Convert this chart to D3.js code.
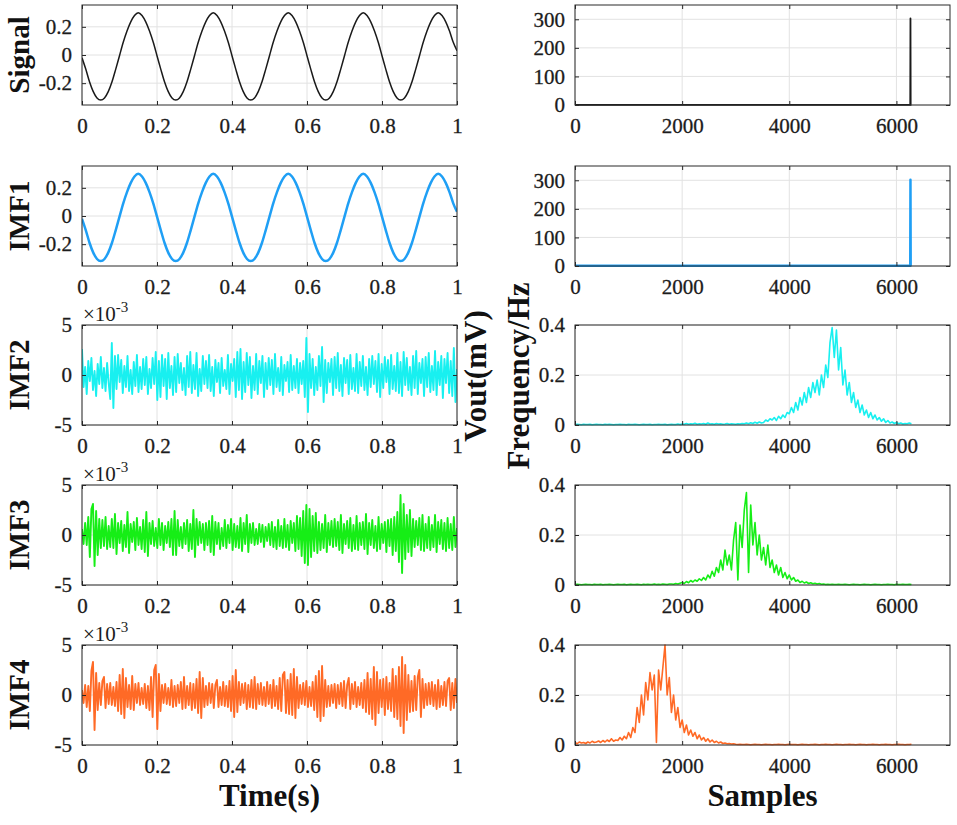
<!DOCTYPE html>
<html>
  <head>
    <meta charset="utf-8">
    <script src="https://d3js.org/d3.v7.min.js"></script>
    <style>
      body {
        margin: 0;
        background: #fff;
      }
      .tick line {
        stroke: #262626;
      }
      .grid line {
        stroke: #e2e2e2;
        stroke-width: 1px;
      }
      .box {
        fill: none;
        stroke: #2a2a2a;
        stroke-width: 1px;
      }
      .lab {
        font-weight: bold;
        fill: #111;
      }
    </style>
  </head>
  <body>
    <script>
      // ---- data ----
      var rowNames = ['Signal', 'IMF1', 'IMF2', 'IMF3', 'IMF4']
      var rowColors = ['#1a1a1a', '#1f9ff5', '#18f0f0', '#16ee16', '#ff6a26']

      var timeTicks = [0, 0.2, 0.4, 0.6, 0.8, 1]
      var sampleTicks = [0, 2000, 4000, 6000]
      var sineTicks = [-0.2, 0, 0.2]
      var noiseTicks = [-5, 0, 5]          // x 10^-3
      var peakTicks = [0, 100, 200, 300]
      var specTicks = [0, 0.2, 0.4]

      // time signal, one value every 0.01 s
      var sigWave = [
        -0.02,-0.1,-0.19,-0.26,-0.305,-0.32,-0.305,-0.26,-0.19,-0.1,-0.005,0.09,0.17,0.235,0.28,0.3,0.28,0.235,0.17,0.09,
        -0.005,-0.1,-0.19,-0.26,-0.305,-0.32,-0.305,-0.26,-0.19,-0.1,-0.005,0.09,0.17,0.235,0.28,0.3,0.28,0.235,0.17,0.09,
        -0.005,-0.1,-0.19,-0.26,-0.305,-0.32,-0.305,-0.26,-0.19,-0.1,-0.005,0.09,0.17,0.235,0.28,0.3,0.28,0.235,0.17,0.09,
        -0.005,-0.1,-0.19,-0.26,-0.305,-0.32,-0.305,-0.26,-0.19,-0.1,-0.005,0.09,0.17,0.235,0.28,0.3,0.28,0.235,0.17,0.09,
        -0.005,-0.1,-0.19,-0.26,-0.305,-0.32,-0.305,-0.26,-0.19,-0.1,-0.005,0.09,0.17,0.235,0.28,0.3,0.28,0.235,0.17,0.09,
        0.03
      ]
      // IMF1 is indistinguishable from the signal at this scale
      var imf1Wave = sigWave

      // IMFs 2-4 in units of 10^-3
      var imf2Wave = [
        2.6,-1.2,0.8,-1.9,1.4,-0.6,1.7,-1.5,0.4,-2.1,1.1,-0.9,1.8,-1.3,0.7,-1.6,1.2,-0.8,-2.4,3.2,
        -3.3,1.9,-1.4,2.0,-0.7,1.5,-1.8,0.9,-1.2,1.9,-1.6,0.5,-1.9,1.3,-1.1,2.0,-1.7,0.8,-1.4,1.6,
        -1.0,1.8,-1.9,0.6,-1.3,1.7,-0.9,2.3,-2.5,1.4,-2.2,2.0,-1.1,1.6,-2.4,2.2,-1.3,0.9,-2.0,1.8,
        -1.7,2.1,-0.8,1.2,-1.5,0.7,-2.0,1.9,-1.2,2.3,-1.8,1.0,-1.4,2.2,-2.1,0.6,-1.6,1.9,-0.9,1.4,
        -1.3,2.0,-1.6,0.8,-2.1,1.5,-0.7,1.2,-1.8,1.7,-1.1,0.5,-1.4,2.0,-1.9,1.1,-0.6,1.6,-2.2,2.3,
        -1.5,2.6,-2.4,1.3,-1.7,2.2,-1.0,1.8,-2.3,0.9,-1.5,2.1,-1.9,1.4,-0.8,1.9,-2.2,1.2,-1.4,1.7,
        -1.0,1.5,-1.9,2.1,-1.2,0.7,-1.6,1.8,-2.0,1.0,-0.6,1.3,-1.7,2.0,-1.5,0.9,-1.3,1.6,-1.8,1.2,
        -0.9,1.4,-2.2,3.7,-3.7,2.1,-1.3,1.6,-2.0,0.8,-1.5,1.9,-1.1,2.8,-2.7,1.5,-1.8,1.2,-0.7,1.6,
        -2.0,1.8,-1.3,2.2,-1.6,1.0,-2.1,1.7,-0.8,1.5,-1.9,2.0,-1.4,0.7,-1.6,2.1,-1.8,1.3,-1.1,1.9,
        -1.5,0.8,-2.0,1.6,-1.2,1.9,-0.9,1.4,-1.7,2.1,-2.2,1.1,-1.3,1.8,-0.7,1.5,-1.9,2.0,-1.4,0.9,
        -1.6,2.2,-1.8,1.3,-2.1,2.3,-1.0,1.7,-1.5,0.8,-2.0,1.9,-1.3,2.4,-1.9,1.2,-0.8,1.6,-2.1,1.8,
        -1.2,2.2,-1.7,0.9,-1.5,2.4,-2.0,1.3,-1.0,1.9,-2.3,1.6,-0.8,2.2,-1.8,1.4,-2.1,2.7,-2.7,0.6
      ]
      var imf3Wave = [
        0.6,-0.9,1.2,-1.0,1.8,-2.2,2.6,3.1,-3.1,2.4,-2.0,1.6,-1.3,1.5,-1.1,1.8,-1.4,0.9,-1.2,1.6,
        -1.3,2.1,-1.9,1.2,-0.8,1.4,-1.6,1.0,-1.2,2.3,-1.8,1.1,-0.7,1.3,-1.5,1.7,-1.0,0.8,-1.4,1.5,
        -1.7,2.3,-2.1,1.2,-0.9,1.4,-1.1,0.7,-1.3,1.6,-1.0,1.2,-1.5,0.9,-0.8,1.3,-1.2,1.6,-2.0,2.4,
        -2.0,1.5,-1.1,0.8,-1.3,1.2,-0.9,1.5,-1.6,1.1,-1.4,2.5,-2.2,1.6,-1.0,1.3,-0.8,1.1,-1.5,1.2,
        -1.0,1.4,-1.7,1.9,-2.0,1.3,-0.9,1.2,-1.4,0.7,-1.1,1.5,-1.3,1.0,-0.8,1.6,-1.5,1.1,-1.2,0.9,
        -1.3,1.7,-1.6,1.2,-0.9,2.0,-1.7,1.1,-0.8,1.2,-1.0,0.6,-0.9,1.1,-0.7,1.0,-1.2,0.8,-0.6,1.1,
        -1.0,1.3,-1.2,0.8,-1.4,1.5,-1.1,0.9,-1.3,1.6,-1.2,1.0,-1.5,1.4,-0.8,1.2,-1.6,1.9,-1.4,1.7,
        -2.1,2.4,-2.8,3.0,-3.0,2.6,-2.2,1.9,-1.6,2.2,-1.8,1.3,-1.5,1.1,-1.3,2.0,-1.7,1.2,-1.0,1.4,
        -1.2,1.6,-1.1,1.3,-1.5,2.0,-1.8,1.1,-0.9,1.4,-1.3,1.7,-1.6,1.0,-1.4,1.9,-1.5,1.2,-1.0,1.3,
        -1.4,2.1,-1.9,1.2,-1.0,1.5,-1.3,0.9,-1.6,1.8,-1.4,1.1,-0.8,1.3,-1.7,1.5,-1.1,1.6,-2.0,1.8,
        -1.6,2.3,-2.7,4.0,-3.8,3.1,-2.4,2.0,-1.7,2.5,-2.1,1.6,-1.2,1.4,-1.0,1.7,-1.5,2.0,-1.6,1.1,
        -1.3,1.8,-1.5,1.0,-1.2,2.0,-1.7,1.3,-0.9,1.5,-1.4,1.2,-1.6,1.7,-1.3,1.1,-1.5,1.8,-1.2,0.7
      ]
      var imf4Wave = [
        0.5,-0.8,1.0,-1.2,0.9,-1.6,2.4,3.3,-3.5,2.2,-1.5,1.2,-1.0,1.4,1.8,-1.3,1.1,-0.9,1.2,-1.0,
        0.8,-1.1,1.3,-1.6,2.0,-1.9,2.6,-2.3,1.7,-1.2,1.0,-1.4,1.9,-1.5,1.1,-0.8,1.2,-1.0,0.7,-0.9,
        1.1,-1.3,0.9,-1.5,1.8,-2.2,2.5,3.0,-3.4,2.1,-1.6,1.0,-0.8,1.1,-0.9,0.7,-1.0,1.5,-1.2,0.9,
        -1.1,1.0,-0.8,1.3,-1.4,1.8,-1.3,0.9,-1.0,1.2,-1.5,1.1,-1.3,1.6,-1.8,2.3,-2.3,1.7,-1.2,0.9,
        -1.0,1.2,-0.8,1.1,-1.3,1.0,1.5,-1.2,0.8,-1.0,1.3,-1.1,0.9,-1.2,1.4,-1.6,1.9,-2.2,2.5,-1.7,
        1.3,-1.0,1.1,-0.8,1.2,-1.4,1.0,-1.2,1.5,-1.3,1.8,-1.4,1.1,-0.9,1.2,-1.0,0.8,-1.1,1.3,-0.9,
        1.0,-1.3,1.5,-1.1,0.9,-1.4,1.7,-1.6,2.0,2.3,-1.8,1.5,-1.9,2.1,-2.0,2.6,-2.3,1.8,-1.3,1.0,
        -0.9,1.2,-1.0,1.4,-1.2,0.8,-1.1,1.3,-1.5,1.9,-2.2,2.4,-2.6,2.9,-2.1,1.5,-1.2,0.9,-1.1,1.0,
        -0.8,1.1,-1.3,1.0,-0.9,1.2,-1.1,1.4,-1.3,1.0,1.7,-1.4,1.1,-0.9,1.3,-1.2,0.8,-1.0,1.2,-1.3,
        1.5,-1.7,2.2,-1.9,1.6,-2.4,2.8,-3.0,2.3,-1.8,1.5,-1.2,1.6,-2.0,1.8,-1.4,1.2,-1.6,2.6,-2.2,
        1.9,-2.4,2.8,-3.1,3.8,-3.8,3.0,-2.5,2.0,-1.7,1.4,-1.6,1.9,-1.5,1.8,2.5,-2.2,1.6,-1.3,1.1,
        -1.0,1.2,-0.9,1.3,-1.1,1.0,-1.4,1.5,-1.2,0.9,-1.0,1.3,-1.1,1.4,1.7,-1.5,1.2,-1.3,1.6,-0.8
      ]

      // spectra: single line for signal / IMF1, the rest on an even grid 0..specEnd
      var specEnd = 6280
      var sigSpecX = [0, 6250, 6258, 6262, 6266, 6280]
      var sigSpecY = [0.6, 0.6, 0.6, 303, 0.6, 0.6]
      var imf1SpecX = [0, 6250, 6258, 6262, 6266, 6280]
      var imf1SpecY = [0.6, 0.6, 0.6, 302, 0.6, 0.6]

      var imf2Spec = [
        0.002,0.003,0.002,0.001,0.003,0.002,0.002,0.003,0.001,0.002,
        0.003,0.002,0.002,0.001,0.003,0.002,0.003,0.002,0.001,0.002,
        0.002,0.003,0.002,0.002,0.001,0.003,0.002,0.002,0.003,0.002,
        0.001,0.002,0.003,0.002,0.002,0.003,0.001,0.002,0.002,0.003,
        0.002,0.002,0.003,0.001,0.002,0.003,0.002,0.002,0.004,0.002,
        0.004,0.003,0.006,0.003,0.005,0.004,0.007,0.003,0.005,0.004,
        0.006,0.003,0.008,0.004,0.005,0.003,0.006,0.004,0.005,0.003,
        0.004,0.006,0.003,0.005,0.004,0.003,0.005,0.004,0.006,0.005,
        0.008,0.005,0.009,0.006,0.011,0.007,0.012,0.008,
        0.01,0.02,0.015,0.025,0.02,0.03,0.018,0.035,0.025,0.04,0.03,0.05,
        0.045,0.07,0.05,0.09,0.06,0.11,0.08,0.13,0.09,0.15,0.11,0.17,0.13,
        0.18,0.12,0.2,0.15,0.24,0.19,0.33,
        0.39,0.27,0.38,0.22,0.31,0.16,0.22,0.12,0.17,0.09,
        0.13,0.07,0.1,0.05,0.08,0.04,0.06,0.03,0.05,0.025,
        0.04,0.02,0.03,0.015,0.025,0.01,0.018,0.008,0.012,0.006,
        0.01,0.005,0.008,0.004,0.006,0.005,0.008,0.005
      ]
      var imf3Spec = [
        0.002,0.003,0.002,0.001,0.002,0.003,0.002,0.002,0.001,0.003,
        0.002,0.002,0.003,0.001,0.002,0.002,0.003,0.002,0.001,0.002,
        0.003,0.002,0.002,0.003,0.001,0.002,0.003,0.002,0.002,0.003,
        0.002,0.001,0.003,0.002,0.003,0.002,0.002,0.004,0.002,0.003,
        0.002,0.004,0.003,0.002,0.004,
        0.004,0.003,0.006,0.004,0.007,
        0.01,0.006,0.014,0.009,0.018,0.012,0.02,0.015,0.025,0.018,
        0.03,0.02,0.04,0.028,0.055,0.035,0.07,0.05,0.1,0.06,
        0.14,0.08,0.12,0.06,0.18,0.25,0.02,0.24,0.15,0.3,
        0.37,0.05,0.32,0.16,0.25,0.12,0.2,0.1,0.15,0.08,
        0.16,0.07,0.1,0.05,0.08,0.04,0.07,0.03,0.05,0.025,
        0.04,0.02,0.03,0.015,0.02,0.01,0.015,0.008,0.012,0.006,0.009,0.005,0.007,0.004,0.006,
        0.003,0.004,0.002,0.003,0.002,0.003,0.002,0.002,0.003,0.002,
        0.002,0.003,0.002,0.001,0.002,0.003,0.002,0.002,0.001,0.002,
        0.003,0.002,0.002,0.001,0.002,0.003,0.002,0.002,0.001,0.002,
        0.002,0.003,0.002,0.002,0.001,0.003,0.002,0.002,0.003,0.002,
        0.002,0.003,0.002
      ]
      var imf4Spec = [
        0.01,0.005,0.012,0.008,0.01,0.006,0.012,0.008,0.015,0.01,
        0.012,0.016,0.01,0.018,0.012,0.02,0.014,0.025,0.015,0.02,
        0.018,0.03,0.02,0.035,0.025,0.05,0.03,0.07,0.05,0.15,
        0.09,0.2,0.12,0.25,0.18,0.29,0.22,0.28,0.01,0.3,
        0.22,0.31,0.4,0.2,0.27,0.13,0.2,0.1,0.15,0.07,
        0.1,0.05,0.08,0.04,0.06,0.035,0.05,0.025,0.04,0.02,
        0.03,0.015,0.025,0.012,0.02,0.01,0.015,0.008,0.012,0.006,0.008,0.005,0.006,0.004,0.005,
        0.003,0.002,0.003,0.002,0.002,0.003,0.002,0.001,0.002,0.003,
        0.002,0.002,0.001,0.002,0.003,0.002,0.002,0.001,0.002,0.002,
        0.003,0.002,0.002,0.001,0.002,0.003,0.002,0.002,0.002,0.001,
        0.002,0.003,0.002,0.002,0.001,0.002,0.002,0.003,0.002,0.001,
        0.002,0.002,0.003,0.002,0.002,0.001,0.002,0.003,0.002,0.002,
        0.001,0.002,0.002,0.003,0.002,0.002,0.001,0.002,0.003,0.002,
        0.002,0.001,0.002,0.002,0.003,0.002,0.002,0.001,0.002,0.002,
        0.003,0.002,0.002,0.001,0.002,0.002,0.003,0.002,0.002,0.001,
        0.002,0.002,0.003
      ]

      // ---- layout ----
      var width = 957, height = 825
      var leftX = 82, rightX = 575
      var panelW = 375, panelH = 100
      var rowTop = [5, 166, 325, 485, 645]
      var serif = '"Liberation Serif", "Times New Roman", serif'

      var svg = d3.select('body').append('svg')
        .attr('width', width)
        .attr('height', height)
        .attr('font-family', serif)

      var clipCount = 0

      // pair up x/y arrays
      function timePts(vals) {
        return vals.map(function(v, i) { return [i / (vals.length - 1), v] })
      }
      function gridPts(vals) {
        return vals.map(function(v, i) { return [i * specEnd / (vals.length - 1), v] })
      }
      function zipPts(xs, ys) {
        return xs.map(function(v, i) { return [v, ys[i]] })
      }

      // drop the domain line and d3's default sans font
      function plain(a) {
        a.select('.domain').remove()
        a.attr('font-family', serif).attr('font-size', 21)
        a.selectAll('text')
          .attr('font-family', serif)
          .attr('fill', '#1c1c1c')
          .attr('stroke', '#1c1c1c')
          .attr('stroke-width', 0.3)
      }

      function panel(px, py, xDomain, yDomain, xTicks, yTicks, pts, color, lw, curve) {
        var x = d3.scaleLinear().domain(xDomain).range([0, panelW])
        var y = d3.scaleLinear().domain(yDomain).range([panelH, 0])
        var g = svg.append('g').attr('transform', 'translate(' + px + ',' + py + ')')

        //grid
        var grid = g.append('g').attr('class', 'grid')
        grid.selectAll('.gx').data(xTicks).enter().append('line')
          .attr('x1', function(d) { return x(d) })
          .attr('x2', function(d) { return x(d) })
          .attr('y1', 0)
          .attr('y2', panelH)
        grid.selectAll('.gy').data(yTicks).enter().append('line')
          .attr('x1', 0)
          .attr('x2', panelW)
          .attr('y1', function(d) { return y(d) })
          .attr('y2', function(d) { return y(d) })

        //data line
        var id = 'clip' + (clipCount++)
        g.append('clipPath').attr('id', id).append('rect')
          .attr('x', 0).attr('y', -2)
          .attr('width', panelW).attr('height', panelH + 4)
        var line = d3.line()
          .x(function(d) { return x(d[0]) })
          .y(function(d) { return y(d[1]) })
        if (curve) line.curve(curve)
        g.append('path')
          .datum(pts)
          .attr('clip-path', 'url(#' + id + ')')
          .attr('fill', 'none')
          .attr('stroke', color)
          .attr('stroke-width', lw)
          .attr('stroke-linejoin', 'round')
          .attr('d', line)

        //axes, ticks point inwards like matlab
        var fmt = function(d) { return String(d) }
        g.append('g')
          .attr('transform', 'translate(0,' + panelH + ')')
          .call(d3.axisBottom(x).tickValues(xTicks).tickSize(-4).tickPadding(13).tickFormat(fmt))
          .call(plain)
        g.append('g')
          .call(d3.axisLeft(y).tickValues(yTicks).tickSize(-4).tickPadding(10).tickFormat(fmt))
          .call(plain)
        g.append('g')
          .call(d3.axisTop(x).tickValues(xTicks).tickSize(-4).tickFormat(''))
          .call(plain)
        g.append('g')
          .attr('transform', 'translate(' + panelW + ',0)')
          .call(d3.axisRight(y).tickValues(yTicks).tickSize(-4).tickFormat(''))
          .call(plain)

        g.append('rect')
          .attr('class', 'box')
          .attr('width', panelW)
          .attr('height', panelH)
        return g
      }

      // left column: time signals
      var leftRows = [
        {pts: timePts(sigWave), dom: [-0.355, 0.355], ticks: sineTicks, lw: 1.5, curve: d3.curveMonotoneX},
        {pts: timePts(imf1Wave), dom: [-0.355, 0.355], ticks: sineTicks, lw: 2.5, curve: d3.curveMonotoneX},
        {pts: timePts(imf2Wave), dom: [-5, 5], ticks: noiseTicks, lw: 1.9, exp: true},
        {pts: timePts(imf3Wave), dom: [-5, 5], ticks: noiseTicks, lw: 1.9, exp: true},
        {pts: timePts(imf4Wave), dom: [-5, 5], ticks: noiseTicks, lw: 1.9, exp: true}
      ]
      // right column: spectra
      var rightRows = [
        {pts: zipPts(sigSpecX, sigSpecY), dom: [0, 350], ticks: peakTicks, lw: 1.8},
        {pts: zipPts(imf1SpecX, imf1SpecY), dom: [0, 350], ticks: peakTicks, lw: 2.5},
        {pts: gridPts(imf2Spec), dom: [0, 0.4], ticks: specTicks, lw: 1.6},
        {pts: gridPts(imf3Spec), dom: [0, 0.4], ticks: specTicks, lw: 1.6},
        {pts: gridPts(imf4Spec), dom: [0, 0.4], ticks: specTicks, lw: 1.6}
      ]

      leftRows.forEach(function(r, i) {
        var g = panel(leftX, rowTop[i], [0, 1], r.dom, timeTicks, r.ticks, r.pts, rowColors[i], r.lw, r.curve)
        if (r.exp) {
          var t = g.append('text')
            .attr('x', 1)
            .attr('y', -4)
            .attr('fill', '#1c1c1c')
            .attr('font-family', serif)
            .attr('font-size', 21)
          t.append('tspan').text('\u00d710')
          t.append('tspan').attr('dy', -9).attr('font-size', 15).text('-3')
        }
        svg.append('text')
          .attr('class', 'lab')
          .attr('transform', 'translate(29,' + (rowTop[i] + panelH / 2) + ') rotate(-90)')
          .attr('text-anchor', 'middle')
          .style('font-size', '29px')
          .text(rowNames[i])
      })

      rightRows.forEach(function(r, i) {
        panel(rightX, rowTop[i], [0, 7000], r.dom, sampleTicks, r.ticks, r.pts, rowColors[i], r.lw)
      })

      //axis titles
      svg.append('text')
        .attr('class', 'lab')
        .attr('x', leftX + panelW / 2)
        .attr('y', 806)
        .attr('text-anchor', 'middle')
        .style('font-size', '31px')
        .text('Time(s)')
      svg.append('text')
        .attr('class', 'lab')
        .attr('x', rightX + panelW / 2)
        .attr('y', 806)
        .attr('text-anchor', 'middle')
        .style('font-size', '31px')
        .text('Samples')
      svg.append('text')
        .attr('class', 'lab')
        .attr('transform', 'translate(486,376) rotate(-90)')
        .attr('text-anchor', 'middle')
        .style('font-size', '31px')
        .text('Vout(mV)')
      svg.append('text')
        .attr('class', 'lab')
        .attr('transform', 'translate(529,376) rotate(-90)')
        .attr('text-anchor', 'middle')
        .style('font-size', '31px')
        .text('Frequency/Hz')
    </script>
  </body>
</html>
